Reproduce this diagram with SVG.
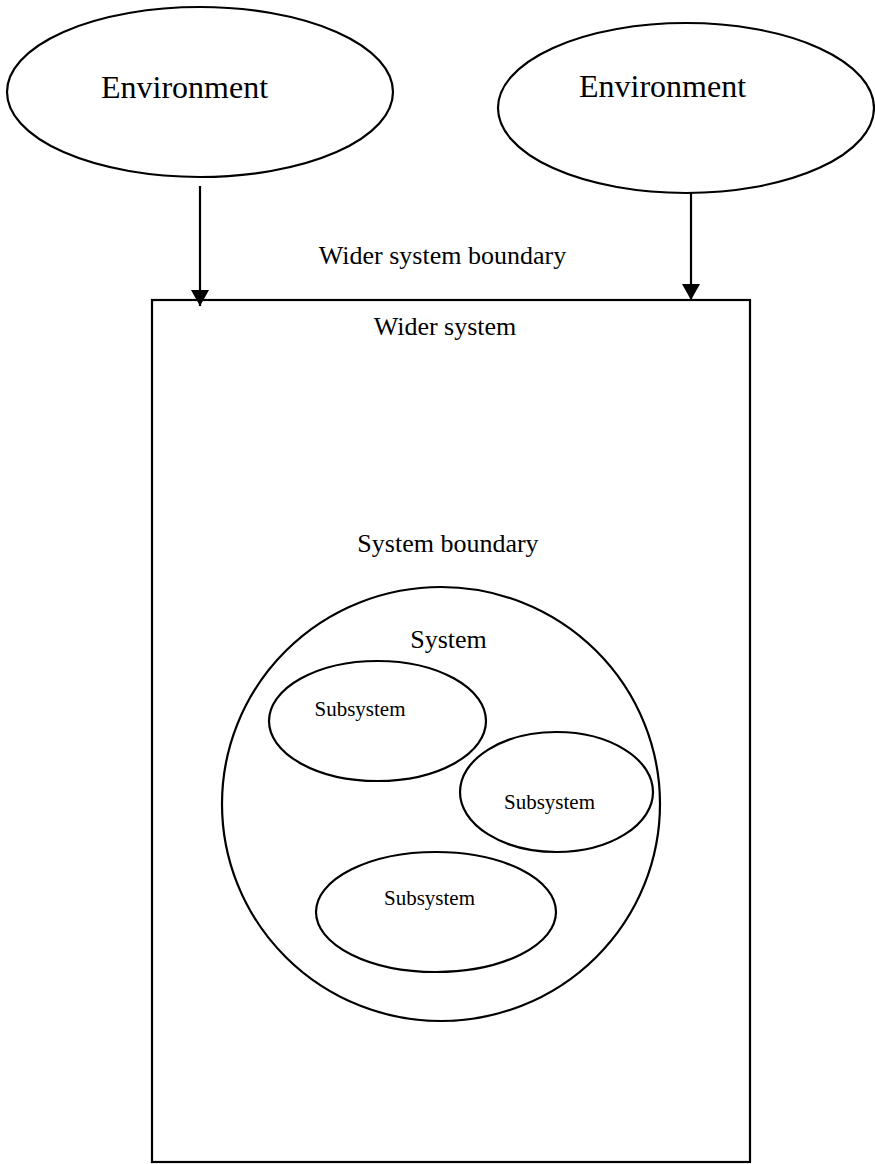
<svg xmlns="http://www.w3.org/2000/svg" width="875" height="1164" viewBox="0 0 875 1164">
<style>
.shape{fill:none;stroke:#000;stroke-width:2.2}
.t{font-family:"Liberation Serif","Times New Roman",serif;fill:#000;text-anchor:middle}
.big{font-size:32px}
.mid{font-size:26px}
.sm{font-size:21px}
.conn{stroke:#000;stroke-width:2.2;fill:none}
</style>
<defs>
<marker id="arr" viewBox="0 0 16 18" refX="16" refY="9" markerWidth="16" markerHeight="18" markerUnits="userSpaceOnUse" orient="auto">
<path d="M0,0 L16,9 L0,18 Z" fill="#000"/>
</marker>
</defs>
<rect width="875" height="1164" fill="#fff"/>
<g id="env-left">
<ellipse class="shape" cx="200" cy="92" rx="193" ry="85"/>
<text class="t big" x="184.5" y="98">Environment</text>
</g>
<g id="env-right">
<ellipse class="shape" cx="686" cy="108" rx="188" ry="85"/>
<text class="t big" x="662.5" y="97">Environment</text>
</g>
<g id="wider-system">
<rect class="shape" x="152" y="300" width="598" height="862"/>
<text class="t mid" x="442.5" y="264">Wider system boundary</text>
<text class="t mid" x="445" y="335">Wider system</text>
<text class="t mid" x="448" y="552">System boundary</text>
</g>
<g id="system">
<ellipse class="shape" cx="441" cy="804" rx="219" ry="217"/>
<text class="t mid" x="448.5" y="648">System</text>
</g>
<g id="subsystem-1">
<ellipse class="shape" cx="377.5" cy="721" rx="108.5" ry="60"/>
<text class="t sm" x="360" y="716">Subsystem</text>
</g>
<g id="subsystem-2">
<ellipse class="shape" cx="556.5" cy="792" rx="96.5" ry="60"/>
<text class="t sm" x="549.5" y="809">Subsystem</text>
</g>
<g id="subsystem-3">
<ellipse class="shape" cx="436" cy="912" rx="120" ry="60"/>
<text class="t sm" x="429.5" y="905">Subsystem</text>
</g>
<g id="connectors">
<line class="conn" x1="200" y1="186" x2="200" y2="306" marker-end="url(#arr)"/>
<line class="conn" x1="691" y1="193" x2="691" y2="300" marker-end="url(#arr)"/>
</g>
</svg>
